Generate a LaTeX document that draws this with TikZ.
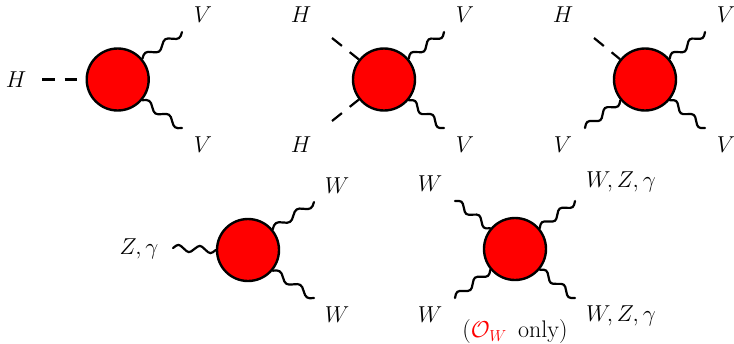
\documentclass[tikz,border=0pt]{standalone}
\usepackage{xcolor}
\usepackage{amsmath}
\usetikzlibrary{calc}

\begin{document}
\begin{tikzpicture}[
    x=0.75pt, y=-0.75pt,
    font=\fontsize{16.5}{20}\selectfont,
    blob/.style={circle, draw=black, fill=red, line width=1.8pt, minimum size=46.5pt, inner sep=0pt},
    boson/.style={line width=1.65pt, line cap=round, to path={
        let \p1=($(\tikztotarget)-(\tikztostart)$), \n1={atan2(\y1,\x1)},
            \p2=($(\tikztostart)!1/4!(\tikztotarget)$),
            \p3=($(\tikztostart)!2/4!(\tikztotarget)$),
            \p4=($(\tikztostart)!3/4!(\tikztotarget)$) in
        .. controls ($(\tikztostart)+(\n1+42:5pt)$) and ($(\p2)+(\n1-42+180:5pt)$) .. (\p2)
        .. controls ($(\p2)+(\n1-42:5pt)$) and ($(\p3)+(\n1+42+180:5pt)$) .. (\p3)
        .. controls ($(\p3)+(\n1+42:5pt)$) and ($(\p4)+(\n1-42+180:5pt)$) .. (\p4)
        .. controls ($(\p4)+(\n1-42:5pt)$) and ($(\tikztotarget)+(\n1+42+180:5pt)$) .. (\tikztotarget)}},
    scalar/.style={line width=1.65pt, dash pattern=on 9.5pt off 7.5pt}
]
    \useasboundingbox (0,0) rectangle (734,343);

    % Top row
    \node[blob] (A) at (117.7,79.5) {};
    \node[blob] (B) at (384,79.5) {};
    \node[blob] (C) at (645,79.5) {};

    \node (Ah) at (16,80) {$H$};
    \node (Av) at (203,15) {$V$};
    \node (Aw) at (203,145) {$V$};
    \node (Bh) at (301,15) {$H$};
    \node (Bi) at (301,145) {$H$};
    \node (Bv) at (465,15) {$V$};
    \node (Bw) at (465,145) {$V$};
    \node (Ch) at (563,15) {$H$};
    \node (Cv) at (563,145) {$V$};
    \node (Cw) at (726,15) {$V$};
    \node (Cx) at (726,145) {$V$};

    \coordinate (Aa) at (42,79.5);
    \coordinate (Ab) at (182,32);
    \coordinate (Ac) at (182,128);
    \coordinate (Ba) at (332,38);
    \coordinate (Bb) at (332,121);
    \coordinate (Bc) at (444,32);
    \coordinate (Bd) at (444,128);
    \coordinate (Ca) at (594,38);
    \coordinate (Cb) at (585,128);
    \coordinate (Cc) at (705,32);
    \coordinate (Cd) at (705,128);

    \draw[scalar] (Aa) -- (A);
    \draw[boson] (Ab) to (A.40);
    \draw[boson] (Ac) to (A.-40);
    \draw[scalar] (Ba) -- (B);
    \draw[scalar] (Bb) -- (B);
    \draw[boson] (Bc) to (B.40);
    \draw[boson] (Bd) to (B.-40);
    \draw[scalar] (Ca) -- (C);
    \draw[boson] (Cb) to (C.220);
    \draw[boson] (Cc) to (C.40);
    \draw[boson] (Cd) to (C.-40);

    % Bottom row
    \node[blob] (D) at (248,250) {};
    \node[blob] (E) at (515,249) {};

    \node (Dz) at (139,249) {$Z,\gamma$};
    \node (Dv) at (337,186) {$W$};
    \node (Dw) at (337,315) {$W$};
    \node (Ew) at (430,184) {$W$};
    \node (Ex) at (430,315) {$W$};
    \node (Ev) at (621,182) {$W,Z,\gamma$};
    \node (Eu) at (621,316) {$W,Z,\gamma$};
    \node[font=\fontsize{18}{20}\selectfont] (Eo) at (515,332) {(\textcolor{red}{$\mathcal{O}_W$}\, only)};

    \coordinate (Da) at (173,248);
    \coordinate (Db) at (314,202);
    \coordinate (Dc) at (314,298);
    \coordinate (Ea) at (455,201);
    \coordinate (Eb) at (455,298);
    \coordinate (Ec) at (575,201);
    \coordinate (Ed) at (575,298);

    \draw[boson] (Da) to (D.west);
    \draw[boson] (Db) to (D.40);
    \draw[boson] (Dc) to (D.-40);
    \draw[boson] (Ea) to (E.140);
    \draw[boson] (Eb) to (E.220);
    \draw[boson] (Ec) to (E.40);
    \draw[boson] (Ed) to (E.-40);
\end{tikzpicture}
\end{document}
